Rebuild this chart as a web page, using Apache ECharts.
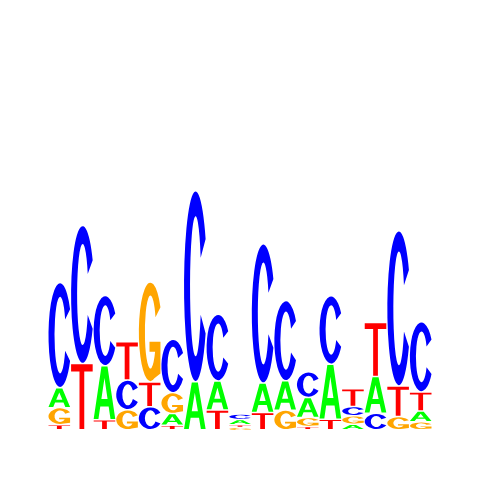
<!DOCTYPE html>
<html>
<head>
<meta charset="utf-8">
<script src="https://cdn.jsdelivr.net/npm/echarts@6/dist/echarts.min.js"></script>
<style>
  html, body { margin: 0; padding: 0; background: #ffffff; }
  #chart { width: 480px; height: 480px; }
</style>
</head>
<body>
<div id="chart"></div>
<script>
// Sequence logo: information content (bits) per letter at each position
const positions = [1, 2, 3, 4, 5, 6, 7, 8, 9, 10, 11, 12, 13, 14, 15, 16, 17];
const letters = ['A', 'C', 'G', 'T'];
const A = [0.104, 0, 0.281, 0, 0, 0.061, 0.250, 0.151, 0.027, 0.153, 0.153, 0.104, 0.286, 0.029, 0.191, 0, 0.057];
const C = [0.547, 0.719, 0.365, 0.155, 0.120, 0.278, 0.993, 0.347, 0.029, 0.724, 0.417, 0.133, 0.356, 0.048, 0.086, 0.807, 0.365];
const G = [0.089, 0, 0, 0.104, 0.521, 0.109, 0, 0, 0.012, 0, 0.102, 0.047, 0, 0.044, 0, 0.069, 0.041];
const T = [0.026, 0.344, 0.052, 0.199, 0.128, 0.023, 0, 0.103, 0.014, 0.090, 0, 0.017, 0.055, 0.092, 0.281, 0.159, 0.099];

const heights = [A, C, G, T];
const colors = ['#00ff00', '#0000ff', '#ffa500', '#ff0000'];

// Glyph outlines (stretched to fill each letter's box)
const glyphs = [
  // A
  'M0,100 L36,0 L64,0 L100,100 L78,100 L69.4,76 L30.6,76 L22,100 Z M35.7,62 L64.3,62 L50,22 Z',
  // C
  'M93.30,25 A50,50 0 1,0 93.30,75 L71.92,65.05 A24,37 0 1,1 71.92,34.95 Z',
  // G
  'M93.30,25 A50,50 0 1,0 67.10,96.98 L93.30,92 L93.30,60 L46,60 L46,70 L70.19,70 A24,37 0 1,1 71.92,34.95 Z',
  // T
  'M0,0 L100,0 L100,11 L61,11 L61,100 L39,100 L39,11 L0,11 Z'
];

// Build stacked letter data: smallest at bottom
const data = [];
positions.forEach(function (pos, i) {
  const items = [];
  for (let k = 0; k < 4; k++) {
    if (heights[k][i] > 0) items.push({ k: k, h: heights[k][i] });
  }
  items.sort(function (a, b) { return a.h - b.h; });
  let y = 0;
  items.forEach(function (it) {
    data.push([pos, y, y + it.h, it.k]);
    y += it.h;
  });
});

const chart = echarts.init(document.getElementById('chart'), null, { renderer: 'canvas' });
chart.setOption({
  backgroundColor: '#ffffff',
  animation: false,
  grid: { left: 48, right: 48, top: 46, bottom: 49.5 },
  xAxis: { type: 'value', min: 0.5, max: 17.5, show: false },
  yAxis: { type: 'value', min: 0, max: 2, show: false },
  series: [{
    type: 'custom',
    silent: true,
    encode: { x: 0, y: [1, 2] },
    data: data,
    renderItem: function (params, api) {
      const x = api.value(0);
      const y0 = api.value(1);
      const y1 = api.value(2);
      const k = api.value(3);
      const tl = api.coord([x - 0.5, y1]);
      const br = api.coord([x + 0.5, y0]);
      const full = br[1] - tl[1];
      let h = full - 1.5;
      if (h < 1) h = Math.max(0.8, full * 0.7);
      return {
        type: 'path',
        shape: {
          pathData: glyphs[k],
          layout: 'cover',
          x: tl[0] + 0.5,
          y: tl[1],
          width: br[0] - tl[0] - 1,
          height: h
        },
        style: { fill: colors[k] }
      };
    }
  }]
});
</script>
</body>
</html>
